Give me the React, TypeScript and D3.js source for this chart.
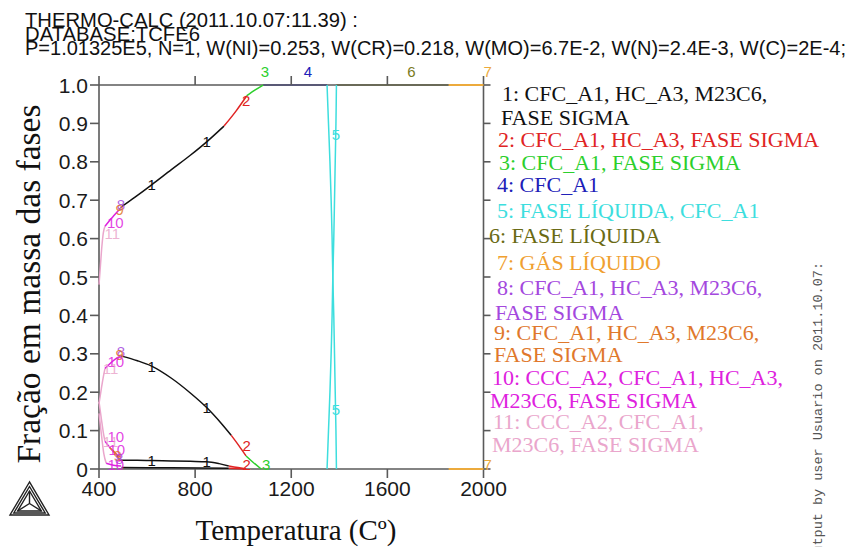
import React from "react";
import * as d3 from "d3";

// Thermo-Calc property diagram: mass fraction of phases vs temperature
const headerLines = [
  "THERMO-CALC (2011.10.07:11.39) :",
  "DATABASE:TCFE6",
  "P=1.01325E5, N=1, W(NI)=0.253, W(CR)=0.218, W(MO)=6.7E-2, W(N)=2.4E-3, W(C)=2E-4;",
];

const xTicks = [400, 800, 1200, 1600, 2000];
const yTicks = [0, 0.1, 0.2, 0.3, 0.4, 0.5, 0.6, 0.7, 0.8, 0.9, 1.0];

// phase region colours (index = region number)
const phaseColors: Record<number, string> = {
  1: "#111111",
  2: "#e02424",
  3: "#2ccf2c",
  4: "#2020b8",
  5: "#3ddede",
  6: "#7a7a1c",
  7: "#ecaa3c",
  8: "#a448de",
  9: "#e0782c",
  10: "#de22de",
  11: "#eaa6cc",
};

const legendEntries: [number, string][] = [
  [1, "1: CFC_A1, HC_A3, M23C6,"],
  [1, "FASE SIGMA"],
  [2, "2: CFC_A1, HC_A3, FASE SIGMA"],
  [3, "3: CFC_A1, FASE SIGMA"],
  [4, "4: CFC_A1"],
  [5, "5: FASE LÍQUIDA, CFC_A1"],
  [6, "6: FASE LÍQUIDA"],
  [7, "7: GÁS LÍQUIDO"],
  [8, "8: CFC_A1, HC_A3, M23C6,"],
  [8, "FASE SIGMA"],
  [9, "9: CFC_A1, HC_A3, M23C6,"],
  [9, "FASE SIGMA"],
  [10, "10: CCC_A2, CFC_A1, HC_A3,"],
  [10, "M23C6, FASE SIGMA"],
  [11, "11: CCC_A2, CFC_A1,"],
  [11, "M23C6, FASE SIGMA"],
];

type Pt = [number, number];

// CFC_A1 fraction (upper branch)
const cfcRegion1: Pt[] = [[494, 0.683], [550, 0.708], [619, 0.74], [700, 0.779], [780, 0.817], [848, 0.852], [920, 0.893]];
const cfcRegion2: Pt[] = [[920, 0.893], [970, 0.932], [1015, 0.972]];
const cfcRegion3: Pt[] = [[1015, 0.972], [1050, 0.987], [1083, 1.0]];

// sigma fraction
const sigmaRegion1: Pt[] = [[494, 0.294], [560, 0.282], [619, 0.268], [700, 0.237], [780, 0.198], [848, 0.16], [910, 0.118], [950, 0.088]];
const sigmaRegion2: Pt[] = [[950, 0.088], [982, 0.061], [1012, 0.034]];
const sigmaRegion3: Pt[] = [[1012, 0.034], [1042, 0.017], [1075, 0.0]];

// M23C6 fraction
const carbideRegion1: Pt[] = [[487, 0.023], [560, 0.023], [619, 0.022], [700, 0.021], [780, 0.02], [848, 0.019], [900, 0.014], [940, 0.008]];
const carbideRegion2: Pt[] = [[940, 0.008], [978, 0.004], [1012, 0.0]];

// HC_A3 fraction
const nitrideRegion1: Pt[] = [[494, 0.004], [700, 0.003], [940, 0.002]];
const nitrideRegion2: Pt[] = [[940, 0.002], [1012, 0.0]];

// low temperature branches
const region11A: Pt[] = [[400, 0.48], [406, 0.53], [412, 0.58], [418, 0.615], [425, 0.632]];
const region11B: Pt[] = [[400, 0.17], [410, 0.21], [418, 0.24], [425, 0.262]];
const region11C: Pt[] = [[400, 0.175], [410, 0.13], [418, 0.095], [425, 0.072]];
const region11D: Pt[] = [[400, 0.145], [410, 0.09], [420, 0.04], [430, 0.015]];
const region10A: Pt[] = [[425, 0.632], [445, 0.648], [465, 0.662], [482, 0.674]];
const region10B: Pt[] = [[425, 0.262], [445, 0.274], [465, 0.285], [482, 0.292]];
const region10C: Pt[] = [[425, 0.072], [440, 0.06], [460, 0.045], [480, 0.035], [492, 0.03]];
const region10D: Pt[] = [[430, 0.015], [460, 0.01], [492, 0.008]];
const region9A: Pt[] = [[482, 0.674], [489, 0.679]];
const region9B: Pt[] = [[482, 0.292], [489, 0.297]];
const region9C: Pt[] = [[445, 0.055], [470, 0.04], [488, 0.02]];
const region8A: Pt[] = [[489, 0.679], [494, 0.683]];
const region8B: Pt[] = [[489, 0.297], [494, 0.294]];

// CFC_A1 / liquid across the melting range
const meltCfc: Pt[] = [[1349, 1.0], [1355, 0.9], [1361, 0.8], [1366, 0.7], [1370, 0.6], [1373, 0.5], [1377, 0.4], [1380, 0.3], [1383, 0.2], [1386, 0.1], [1388, 0.0]];
const meltLiquid: Pt[] = [[1349, 0.0], [1355, 0.1], [1361, 0.2], [1366, 0.3], [1370, 0.4], [1373, 0.5], [1377, 0.6], [1380, 0.7], [1383, 0.8], [1386, 0.9], [1388, 1.0]];

// gas stretches along the frame
const gasTop: Pt[] = [[1855, 1.0], [2000, 1.0]];
const gasBottom: Pt[] = [[1855, 0.0], [2000, 0.0]];

const curves: { region: number; pts: Pt[]; vertical?: boolean }[] = [
  { region: 11, pts: region11A }, { region: 11, pts: region11B },
  { region: 11, pts: region11C }, { region: 11, pts: region11D },
  { region: 10, pts: region10A }, { region: 10, pts: region10B },
  { region: 10, pts: region10C }, { region: 10, pts: region10D },
  { region: 9, pts: region9A }, { region: 9, pts: region9B }, { region: 9, pts: region9C },
  { region: 8, pts: region8A }, { region: 8, pts: region8B },
  { region: 1, pts: cfcRegion1 }, { region: 2, pts: cfcRegion2 }, { region: 3, pts: cfcRegion3 },
  { region: 1, pts: sigmaRegion1 }, { region: 2, pts: sigmaRegion2 }, { region: 3, pts: sigmaRegion3 },
  { region: 1, pts: carbideRegion1 }, { region: 2, pts: carbideRegion2 },
  { region: 1, pts: nitrideRegion1 }, { region: 2, pts: nitrideRegion2 },
  { region: 5, pts: meltCfc, vertical: true }, { region: 5, pts: meltLiquid, vertical: true },
];

// region numbers written along the curves: [region, T, fraction]
const curveLabels: [number, number, number][] = [
  [1, 619, 0.74], [1, 848, 0.852], [2, 1012, 0.96], [3, 1090, 1.035],
  [4, 1269, 1.035], [6, 1700, 1.035], [7, 2017, 1.035],
  [5, 1386, 0.87], [5, 1386, 0.155],
  [1, 619, 0.266], [1, 848, 0.16], [2, 1015, 0.06], [2, 1015, 0.012], [3, 1096, 0.012],
  [1, 619, 0.022], [1, 848, 0.019], [7, 2017, 0.012],
  [8, 491, 0.69], [9, 486, 0.675], [10, 468, 0.643], [11, 455, 0.613],
  [8, 491, 0.305], [9, 486, 0.298], [10, 470, 0.28], [11, 448, 0.262],
  [10, 470, 0.085], [11, 448, 0.072], [10, 474, 0.05], [9, 478, 0.035], [8, 484, 0.028], [10, 470, 0.012],
];

const W = 848;
const H = 547;

export default function App() {
  const x = d3.scaleLinear().domain([400, 2000]).range([99, 483.5]);
  const y = d3.scaleLinear().domain([0, 1]).range([469, 85]);
  const smooth = d3.line<Pt>().x((d) => x(d[0])).y((d) => y(d[1])).curve(d3.curveMonotoneX);
  const straight = d3.line<Pt>().x((d) => x(d[0])).y((d) => y(d[1])).curve(d3.curveCatmullRom);

  const axisColor = "#5a5a5a";
  const sans = "'Liberation Sans', Arial, sans-serif";
  const serif = "'Liberation Serif', 'Times New Roman', serif";
  const legendX = [502, 501, 498, 499, 497, 497, 489, 497, 497, 495, 494, 494, 492, 490, 493, 492];
  const legendY = [101, 125, 147, 170, 192, 218, 243, 270, 295, 320, 340, 362, 385, 408, 429, 452];

  return (
    <svg width={W} height={H} viewBox={`0 0 ${W} ${H}`} style={{ position: "absolute", left: 0, top: 0, background: "#fff" }}>
      <rect width={W} height={H} fill="#fff" />
      {/* header */}
      <g fontFamily={sans} fontSize={20} fill="#111">
        <text x={25} y={26.5} textLength={333} lengthAdjust="spacingAndGlyphs">{headerLines[0]}</text>
        <text x={25} y={40.8} textLength={175} lengthAdjust="spacingAndGlyphs">{headerLines[1]}</text>
        <text x={25} y={55} textLength={821} lengthAdjust="spacingAndGlyphs">{headerLines[2]}</text>
      </g>

      {/* single phase stretches along the frame, under the axes */}
      <line x1={x(1083)} x2={x(1349)} y1={y(1)} y2={y(1)} stroke={phaseColors[4]} strokeWidth={1.5} />
      <line x1={x(1388)} x2={x(1855)} y1={y(1)} y2={y(1)} stroke={phaseColors[6]} strokeWidth={1.5} />

      {/* frame and ticks */}
      <g stroke={axisColor} strokeWidth={1.6} fill="none">
        <line x1={x(400)} x2={x(2000)} y1={y(1)} y2={y(1)} />
        <line x1={x(400)} x2={x(2000)} y1={y(0)} y2={y(0)} />
        <line x1={x(400)} x2={x(400)} y1={y(0)} y2={y(1)} />
        <line x1={x(2000)} x2={x(2000)} y1={y(0)} y2={y(1)} />
        {xTicks.map((t) => (
          <g key={"xt" + t}>
            <line x1={x(t)} x2={x(t)} y1={y(0)} y2={y(0) + 9} />
            <line x1={x(t)} x2={x(t)} y1={y(1)} y2={y(1) - 9} />
          </g>
        ))}
        {yTicks.map((t) => (
          <g key={"yt" + t}>
            <line x1={x(400) - 9} x2={x(400)} y1={y(t)} y2={y(t)} />
            <line x1={x(2000)} x2={x(2000) + 7} y1={y(t)} y2={y(t)} />
          </g>
        ))}
      </g>

      {/* tick labels */}
      <g fontFamily={sans} fontSize={21} fill="#1a1a1a">
        {xTicks.map((t) => (
          <text key={"xl" + t} x={x(t)} y={496} textAnchor="middle">{t}</text>
        ))}
        {yTicks.map((t) => (
          <text key={"yl" + t} x={88} y={y(t) + 7.5} textAnchor="end">{t === 0 ? "0" : d3.format(".1f")(t)}</text>
        ))}
      </g>

      {/* phase curves */}
      <g fill="none" strokeWidth={1.5}>
        {curves.map((c, i) => (
          <path key={"c" + i} d={(c.vertical ? straight : smooth)(c.pts) || ""} stroke={phaseColors[c.region]} />
        ))}
        <path d={smooth(gasTop) || ""} stroke={phaseColors[7]} strokeWidth={2} />
        <path d={smooth(gasBottom) || ""} stroke={phaseColors[7]} strokeWidth={2} />
      </g>

      {/* region numbers on curves */}
      <g fontFamily={sans} fontSize={15} textAnchor="middle">
        {curveLabels.map(([r, t, v], i) => (
          <text key={"cl" + i} x={x(t)} y={y(v) + 5.5} fill={phaseColors[r]} fillOpacity={r >= 8 ? 0.85 : 1}>{r}</text>
        ))}
      </g>

      {/* legend */}
      <g fontFamily={serif} fontSize={22}>
        {legendEntries.map(([r, s], i) => (
          <text key={"lg" + i} x={legendX[i]} y={legendY[i]} fill={r === 7 ? "#f0a030" : r === 6 ? "#6a6a14" : phaseColors[r]}>{s}</text>
        ))}
      </g>

      {/* axis titles */}
      <text x={296} y={540} textAnchor="middle" fontFamily={serif} fontSize={29} fill="#111">Temperatura (Cº)</text>
      <text transform="translate(40,284) rotate(-90)" textAnchor="middle" fontFamily={serif} fontSize={33.5} fill="#111">Fração em massa das fases</text>

      {/* Thermo-Calc logo */}
      <g stroke="#222" strokeWidth={1.4} fill="none">
        <path d="M29.5,482 L10,515 L49,515 Z" />
        <path d="M29.5,486.5 L13.8,513 L45.2,513 Z" />
        <path d="M29.5,491 L17.6,511 L41.4,511 Z" />
        <path d="M29.5,491 L29.5,503.5 M17.6,511 L29.5,503.5 M41.4,511 L29.5,503.5" />
      </g>

      {/* side stamp */}
      <text transform="translate(822,262) rotate(-90)" textAnchor="end" fontFamily="'Liberation Mono', 'Courier New', monospace" fontSize={13.5} fill="#555">Output by user Usuario on 2011.10.07:</text>
    </svg>
  );
}
